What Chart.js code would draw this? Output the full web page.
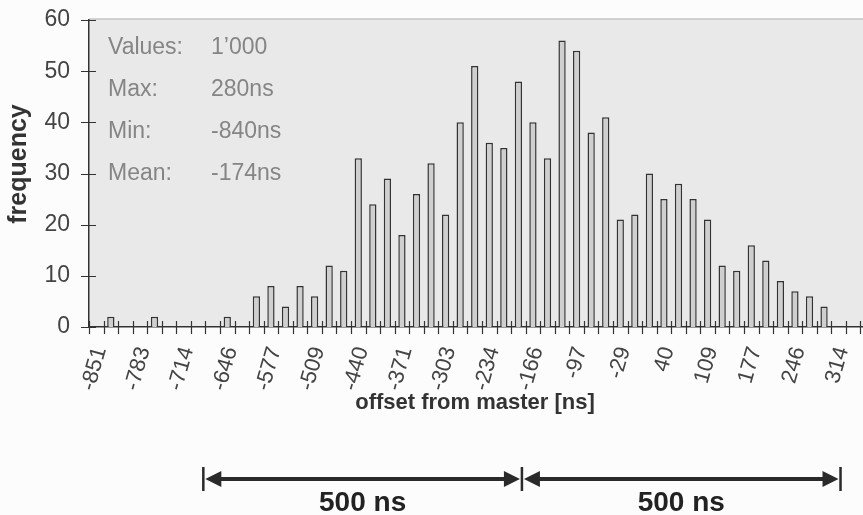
<!DOCTYPE html>
<html>
<head>
<meta charset="utf-8">
<script src="https://cdn.jsdelivr.net/npm/chart.js@4.4.1/dist/chart.umd.min.js"></script>
<style>
  html, body { margin: 0; padding: 0; overflow: hidden; background: #fcfcfc; }
  canvas { display: block; }
</style>
</head>
<body>
<canvas id="hist" width="875" height="515"></canvas>
<script>
// Histogram of slave clock offsets against the master (1'000 samples)
const tickLabels = ['-851', '-783', '-714', '-646', '-577', '-509', '-440', '-371', '-303',
                    '-234', '-166', '-97', '-29', '40', '109', '177', '246', '314'];
const binsPerLabel = 3;
const frequency = [0, 2, 0, 0, 2, 0, 0, 0, 0, 2, 0, 6, 8, 4, 8, 6, 12, 11, 33, 24, 29, 18,
                   26, 32, 22, 40, 51, 36, 35, 48, 40, 33, 56, 54, 38, 41, 21, 22, 30, 25,
                   28, 25, 21, 12, 11, 16, 13, 9, 7, 6, 4, 0, 0, 0];
const yTicks = [0, 10, 20, 30, 40, 50, 60];

// summary box
const statNames = ['Values:', 'Max:', 'Min:', 'Mean:'];
const statValues = ['1\u2019000', '280ns', '-840ns', '-174ns'];

// two 500 ns spans marked under the axis, in ns
const spanMarksNs = [-683, -183, 317];
const spanText = '500 ns';

const categories = frequency.map((_, j) =>
  j % binsPerLabel === 0 ? (tickLabels[j / binsPerLabel] || '') : '');
const binStart = Number(tickLabels[0]);
const binWidth = (Number(tickLabels[tickLabels.length - 1]) - binStart) /
                 ((tickLabels.length - 1) * binsPerLabel);
const nsToIndex = v => (v - binStart) / binWidth;

const FONT = '"Liberation Sans", Arial, sans-serif';

const decor = {
  id: 'decor',
  beforeDraw(chart) {
    const { ctx, chartArea: a } = chart;
    ctx.save();
    ctx.fillStyle = '#fcfcfc';
    ctx.fillRect(0, 0, chart.width, chart.height);
    ctx.fillStyle = '#e9e9e9';
    ctx.fillRect(a.left, a.top - 1, a.right - a.left, a.bottom - a.top + 1);
    ctx.strokeStyle = '#c4c4c4';
    ctx.lineWidth = 1.5;
    ctx.beginPath();
    ctx.moveTo(a.left, a.top - 1);
    ctx.lineTo(a.right, a.top - 1);
    ctx.stroke();
    ctx.restore();
  },
  afterDraw(chart) {
    const { ctx, chartArea: a, scales: { x, y } } = chart;
    ctx.save();
    // tick marks crossing both axes
    ctx.strokeStyle = '#333';
    ctx.lineWidth = 1.2;
    const y0 = y.getPixelForValue(0);
    ctx.beginPath();
    for (let i = 0; i <= frequency.length; i++) {
      const px = Math.round(x.getPixelForValue(i - 0.5)) + 0.5;
      ctx.moveTo(px, y0 - 6);
      ctx.lineTo(px, y0 + 7);
    }
    for (const v of yTicks) {
      const py = Math.round(y.getPixelForValue(v)) + 0.5;
      ctx.moveTo(a.left - 8, py);
      ctx.lineTo(a.left + 7, py);
    }
    ctx.stroke();

    // summary box
    ctx.font = '23px ' + FONT;
    ctx.fillStyle = '#858585';
    ctx.textBaseline = 'alphabetic';
    ctx.textAlign = 'left';
    statNames.forEach((n, i) => {
      const by = 54 + i * 42;
      ctx.fillText(n, 108, by);
      ctx.fillText(statValues[i], 211, by);
    });

    // axis titles
    ctx.fillStyle = '#333';
    ctx.font = 'bold 22px ' + FONT;
    ctx.textAlign = 'center';
    ctx.textBaseline = 'middle';
    ctx.fillText('offset from master [ns]', 475, 403);
    ctx.save();
    ctx.translate(19, 164);
    ctx.rotate(-Math.PI / 2);
    ctx.font = 'bold 25px ' + FONT;
    ctx.fillText('frequency', 0, 0);
    ctx.restore();

    // 500 ns span arrows
    const ay = 479;
    const xs = spanMarksNs.map(v => x.getPixelForValue(nsToIndex(v)));
    ctx.strokeStyle = '#2a2a2a';
    ctx.fillStyle = '#2a2a2a';
    ctx.lineWidth = 2.5;
    ctx.beginPath();
    xs.forEach(px => { ctx.moveTo(px, ay - 12); ctx.lineTo(px, ay + 12); });
    ctx.stroke();
    ctx.lineWidth = 4;
    for (let i = 0; i < xs.length - 1; i++) {
      const x1 = xs[i] + 2, x2 = xs[i + 1] - 2;
      ctx.beginPath();
      ctx.moveTo(x1 + 10, ay);
      ctx.lineTo(x2 - 10, ay);
      ctx.stroke();
      ctx.beginPath();
      ctx.moveTo(x1, ay); ctx.lineTo(x1 + 16, ay - 8); ctx.lineTo(x1 + 16, ay + 8); ctx.closePath();
      ctx.moveTo(x2, ay); ctx.lineTo(x2 - 16, ay - 8); ctx.lineTo(x2 - 16, ay + 8); ctx.closePath();
      ctx.fill();
      ctx.font = 'bold 28px ' + FONT;
      ctx.textBaseline = 'alphabetic';
      ctx.fillStyle = '#222';
      ctx.fillText(spanText, (xs[i] + xs[i + 1]) / 2, 511);
      ctx.fillStyle = '#2a2a2a';
    }
    ctx.restore();
  }
};

new Chart(document.getElementById('hist'), {
  type: 'bar',
  data: {
    labels: categories,
    datasets: [{
      data: frequency,
      backgroundColor: '#cfcfcf',
      borderColor: '#333',
      borderWidth: 1.5,
      barPercentage: 0.5,
      categoryPercentage: 1
    }]
  },
  options: {
    responsive: false,
    animation: false,
    devicePixelRatio: 1,
    layout: { padding: { top: 20, left: 0, right: 0, bottom: 0 } },
    plugins: { legend: { display: false }, tooltip: { enabled: false } },
    scales: {
      x: {
        offset: true,
        grid: { display: false },
        border: { display: true, color: '#333', width: 1.5 },
        ticks: {
          autoSkip: false,
          minRotation: 74,
          maxRotation: 74,
          padding: 9,
          labelOffset: 4,
          color: '#444',
          font: { family: FONT, size: 22 }
        },
        afterFit(s) { s.height = 188; s.paddingLeft = 0; s.paddingRight = 0; }
      },
      y: {
        min: 0,
        max: 60,
        grid: { display: false },
        border: { display: true, color: '#333', width: 1.5 },
        ticks: {
          stepSize: 10,
          padding: 11,
          color: '#444',
          font: { family: FONT, size: 23 }
        },
        afterFit(s) { s.width = 89; s.paddingTop = 0; s.paddingBottom = 0; }
      }
    }
  },
  plugins: [decor]
});
</script>
</body>
</html>
